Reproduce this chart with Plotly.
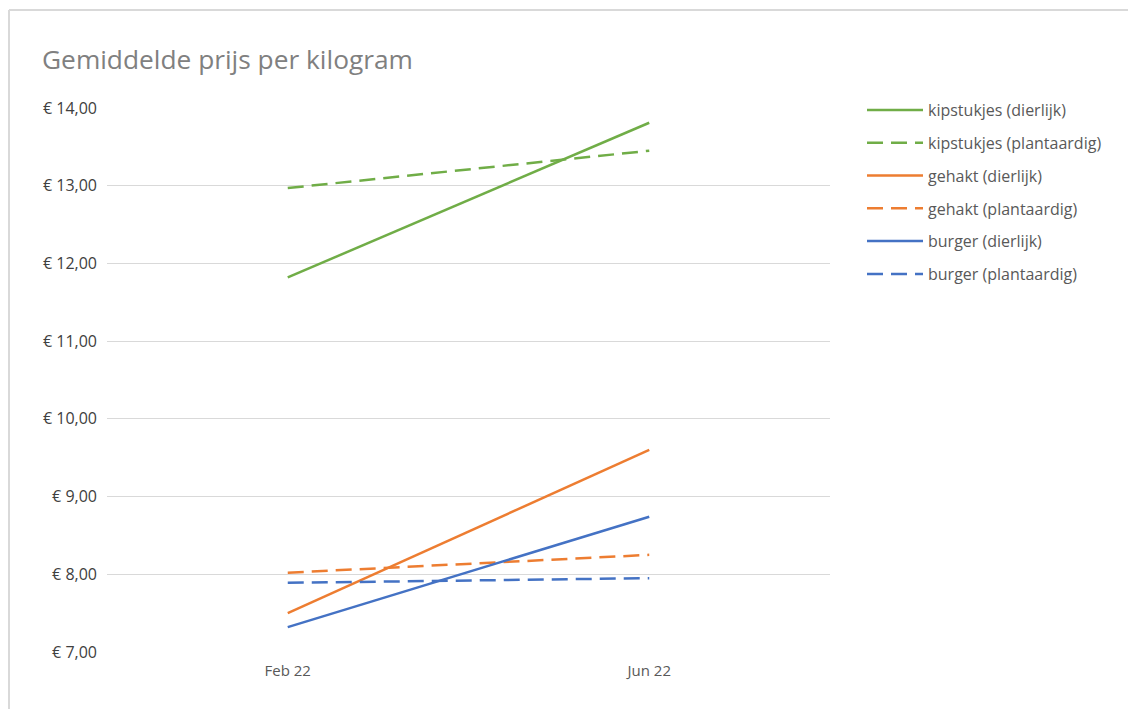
import plotly.graph_objects as go

categories = ["Feb 22", "Jun 22"]
series_names = [
    "kipstukjes (dierlijk)",
    "kipstukjes (plantaardig)",
    "gehakt (dierlijk)",
    "gehakt (plantaardig)",
    "burger (dierlijk)",
    "burger (plantaardig)",
]
kip_dierlijk = [11.82, 13.81]
kip_plant = [12.97, 13.45]
gehakt_dierlijk = [7.50, 9.60]
gehakt_plant = [8.02, 8.25]
burger_dierlijk = [7.32, 8.74]
burger_plant = [7.89, 7.95]
y_ticks = [7, 8, 9, 10, 11, 12, 13, 14]
y_tick_labels = ["€ 7,00", "€ 8,00", "€ 9,00", "€ 10,00", "€ 11,00", "€ 12,00", "€ 13,00", "€ 14,00"]

values = [kip_dierlijk, kip_plant, gehakt_dierlijk, gehakt_plant, burger_dierlijk, burger_plant]
colors = ["#70ad47", "#70ad47", "#ed7d31", "#ed7d31", "#4472c4", "#4472c4"]
dashes = ["solid", "16px,8px", "solid", "16px,8px", "solid", "16px,8px"]

OFF = 8  # page body margin
W, H = 1136 - OFF, 709 - OFF
L, R, T, B = 107 - OFF, 306, 108 - OFF, 57
pw, ph = W - L - R, H - T - B

fig = go.Figure()
for i, (name, vals) in enumerate(zip(series_names, values)):
    fig.add_trace(go.Scatter(
        x=categories, y=vals, name=name, mode="lines",
        line=dict(color=colors[i], width=2.5, dash=dashes[i]),
        legendgroup=name,
    ))

# helpers converting reference-screenshot pixels to paper coords
def px_x(p):
    return (p - OFF - L) / pw

def px_y(p):
    return (H - B - (p - OFF)) / ph

border = "#d9d9d9"
shapes = [
    dict(type="line", xref="paper", yref="paper", x0=px_x(9), x1=px_x(1140), y0=px_y(10), y1=px_y(10),
         line=dict(color=border, width=2)),
    dict(type="line", xref="paper", yref="paper", x0=px_x(9), x1=px_x(9), y0=px_y(10), y1=px_y(712),
         line=dict(color=border, width=2)),
]

fig.update_layout(
    width=W, height=H,
    margin=dict(l=L, r=R, t=T, b=B),
    paper_bgcolor="white", plot_bgcolor="white",
    font=dict(family="Open Sans, Liberation Sans, sans-serif", color="#595959", size=13),
    title=dict(text="Gemiddelde prijs per kilogram", x=(42 - OFF) / W, xanchor="left",
               y=1 - (60 - OFF) / H, yanchor="middle",
               font=dict(size=26.3, color="#808080", family="Open Sans, sans-serif")),
    xaxis=dict(type="category", range=[-0.5, 1.5], showgrid=False, showline=False,
               ticks="", tickfont=dict(size=15, color="#595959"), ticklabelstandoff=8),
    yaxis=dict(range=[7, 14], tickvals=y_ticks, ticktext=y_tick_labels,
               showgrid=True, gridcolor="#d9d9d9", gridwidth=1.3, zeroline=False,
               showline=False, ticks="", tickfont=dict(size=16, color="#404040"),
               ticklabelstandoff=9),
    legend=dict(x=px_x(862), xanchor="left", y=px_y(93), yanchor="top",
                font=dict(size=16, color="#595959"), tracegroupgap=9,
                itemwidth=56, bgcolor="rgba(0,0,0,0)"),
    shapes=shapes,
    showlegend=True,
)

fig.write_html("out.html")
